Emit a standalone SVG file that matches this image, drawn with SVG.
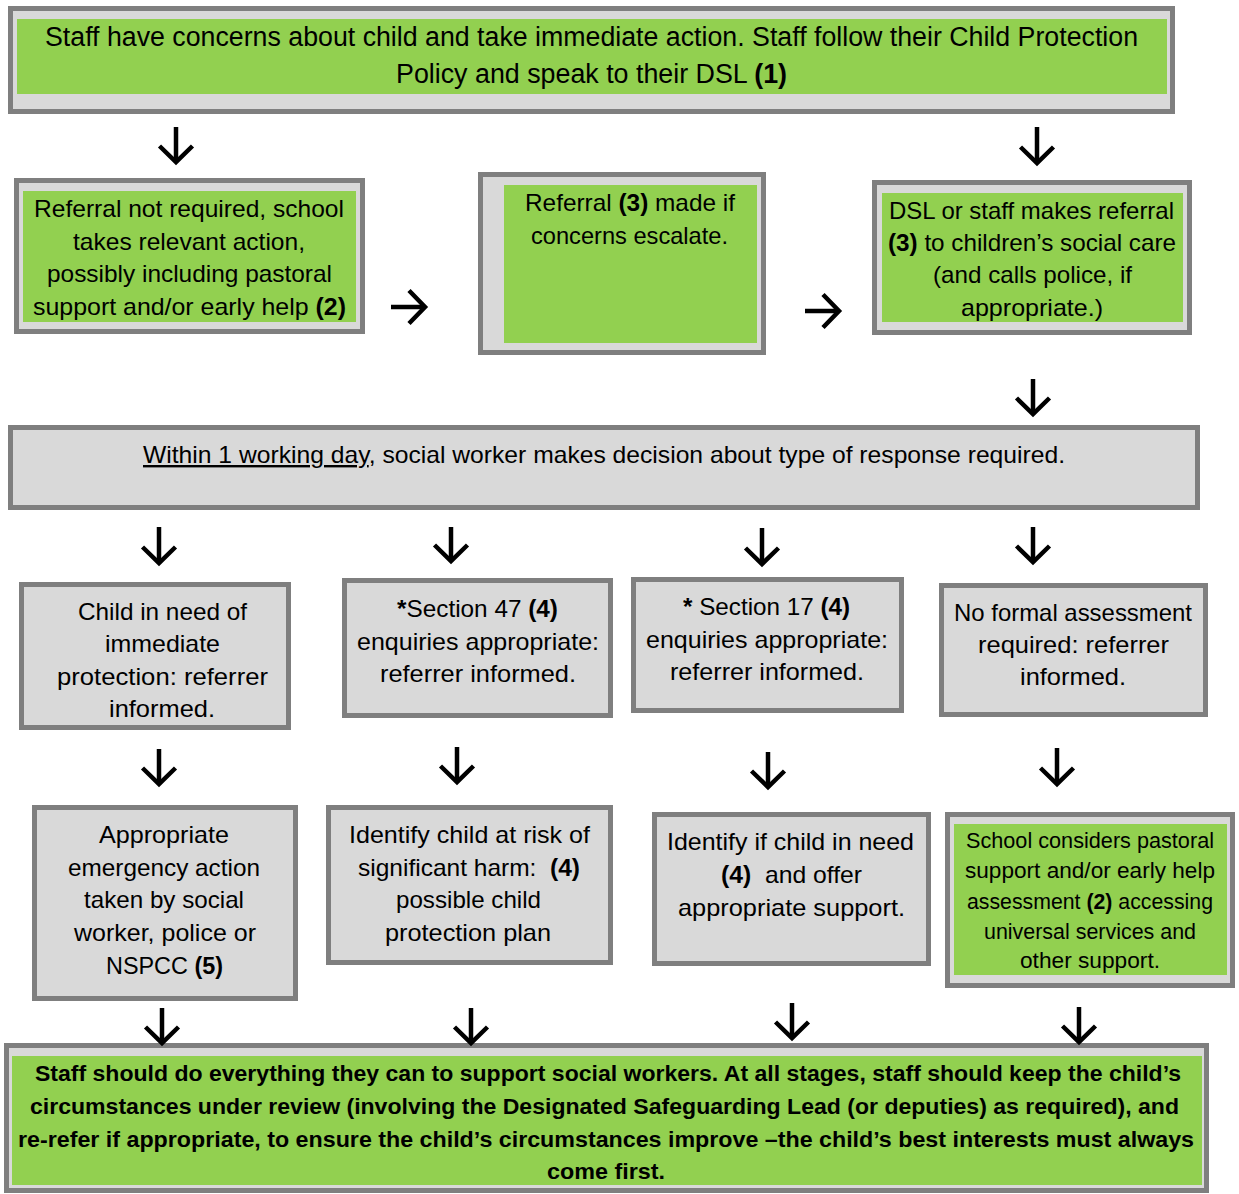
<svg xmlns="http://www.w3.org/2000/svg" width="1239" height="1194" viewBox="0 0 1239 1194">
<defs>
<style>
.box{fill:#d9d9d9;stroke:#7f7f7f;stroke-width:5}
.green{fill:#92d050}
.t{font-family:"Liberation Sans",Arial,sans-serif;fill:#000;text-anchor:middle;font-size:24px}
.b{font-weight:bold}
.arr{stroke:#000;stroke-width:4.5;fill:none;marker-end:url(#chev)}
</style>
<marker id="chev" markerUnits="userSpaceOnUse" orient="auto" refX="0" refY="0" markerWidth="40" markerHeight="40" overflow="visible">
<path d="M-16,-16.5 L0,0 L-16,16.5" fill="none" stroke="#000" stroke-width="4.5" stroke-linejoin="miter"/>
</marker>
</defs>
<rect width="1239" height="1194" fill="#fff"/>

<g id="n1">
<rect class="box" x="10.5" y="8.5" width="1162" height="103"/>
<rect class="green" x="17" y="19" width="1150" height="75"/>
<text class="t" style="font-size:27px" x="591.5" y="46" textLength="1093" lengthAdjust="spacingAndGlyphs">Staff have concerns about child and take immediate action. Staff follow their Child Protection</text>
<text class="t" style="font-size:27px" x="591.5" y="83" textLength="391" lengthAdjust="spacingAndGlyphs">Policy and speak to their DSL <tspan class="b">(1)</tspan></text>
</g>

<g id="n2">
<rect class="box" x="16.5" y="180.5" width="346" height="151"/>
<rect class="green" x="23" y="191" width="333" height="131"/>
<text class="t" x="189" y="217" textLength="310" lengthAdjust="spacingAndGlyphs">Referral not required, school</text>
<text class="t" x="189" y="250" textLength="232" lengthAdjust="spacingAndGlyphs">takes relevant action,</text>
<text class="t" x="189.5" y="282" textLength="285" lengthAdjust="spacingAndGlyphs">possibly including pastoral</text>
<text class="t" x="189.5" y="315" textLength="313" lengthAdjust="spacingAndGlyphs">support and/or early help <tspan class="b">(2)</tspan></text>
</g>

<g id="n3">
<rect class="box" x="480.5" y="174.5" width="283" height="178"/>
<rect class="green" x="504" y="185" width="253" height="158"/>
<text class="t" x="630" y="211" textLength="210" lengthAdjust="spacingAndGlyphs">Referral <tspan class="b">(3)</tspan> made if</text>
<text class="t" x="629.5" y="244" textLength="197" lengthAdjust="spacingAndGlyphs">concerns escalate.</text>
</g>

<g id="n4">
<rect class="box" x="874.5" y="182.5" width="315" height="150"/>
<rect class="green" x="882" y="193" width="301" height="129"/>
<text class="t" x="1031.5" y="219" textLength="285" lengthAdjust="spacingAndGlyphs">DSL or staff makes referral</text>
<text class="t" x="1032" y="251" textLength="288" lengthAdjust="spacingAndGlyphs"><tspan class="b">(3)</tspan> to children’s social care</text>
<text class="t" x="1032.5" y="283" textLength="199" lengthAdjust="spacingAndGlyphs">(and calls police, if</text>
<text class="t" x="1032" y="316" textLength="142" lengthAdjust="spacingAndGlyphs">appropriate.)</text>
</g>

<g id="n5">
<rect class="box" x="10.5" y="427.5" width="1187" height="80"/>
<text class="t" style="text-anchor:start" x="143" y="463" textLength="922" lengthAdjust="spacingAndGlyphs"><tspan text-decoration="underline">Within 1 working day</tspan>, social worker makes decision about type of response required.</text>
</g>

<g id="n6">
<rect class="box" x="21.5" y="584.5" width="267" height="143"/>
<text class="t" x="162.5" y="620" textLength="169" lengthAdjust="spacingAndGlyphs">Child in need of</text>
<text class="t" x="162.5" y="652" textLength="115" lengthAdjust="spacingAndGlyphs">immediate</text>
<text class="t" x="162.5" y="685" textLength="211" lengthAdjust="spacingAndGlyphs">protection: referrer</text>
<text class="t" x="162" y="717" textLength="106" lengthAdjust="spacingAndGlyphs">informed.</text>
</g>

<g id="n7">
<rect class="box" x="344.5" y="580.5" width="266" height="135"/>
<text class="t" x="477.5" y="617" textLength="161" lengthAdjust="spacingAndGlyphs"><tspan class="b">*</tspan>Section 47 <tspan class="b">(4)</tspan></text>
<text class="t" x="478" y="650" textLength="242" lengthAdjust="spacingAndGlyphs">enquiries appropriate:</text>
<text class="t" x="478" y="682" textLength="196" lengthAdjust="spacingAndGlyphs">referrer informed.</text>
</g>

<g id="n8">
<rect class="box" x="633.5" y="579.5" width="268" height="131"/>
<text class="t" x="766.5" y="615" textLength="167" lengthAdjust="spacingAndGlyphs"><tspan class="b">*</tspan> Section 17 <tspan class="b">(4)</tspan></text>
<text class="t" x="767" y="648" textLength="242" lengthAdjust="spacingAndGlyphs">enquiries appropriate:</text>
<text class="t" x="767" y="680" textLength="194" lengthAdjust="spacingAndGlyphs">referrer informed.</text>
</g>

<g id="n9">
<rect class="box" x="941.5" y="585.5" width="264" height="129"/>
<text class="t" x="1073" y="621" textLength="238" lengthAdjust="spacingAndGlyphs">No formal assessment</text>
<text class="t" x="1073.5" y="653" textLength="191" lengthAdjust="spacingAndGlyphs">required: referrer</text>
<text class="t" x="1073" y="685" textLength="106" lengthAdjust="spacingAndGlyphs">informed.</text>
</g>

<g id="n10">
<rect class="box" x="34.5" y="807.5" width="261" height="191"/>
<text class="t" x="164" y="843" textLength="130" lengthAdjust="spacingAndGlyphs">Appropriate</text>
<text class="t" x="164" y="876" textLength="192" lengthAdjust="spacingAndGlyphs">emergency action</text>
<text class="t" x="164" y="908" textLength="160" lengthAdjust="spacingAndGlyphs">taken by social</text>
<text class="t" x="165" y="941" textLength="182" lengthAdjust="spacingAndGlyphs">worker, police or</text>
<text class="t" x="164.5" y="974" textLength="117" lengthAdjust="spacingAndGlyphs">NSPCC <tspan class="b">(5)</tspan></text>
</g>

<g id="n11">
<rect class="box" x="328.5" y="807.5" width="282" height="155"/>
<text class="t" x="469.5" y="843" textLength="241" lengthAdjust="spacingAndGlyphs">Identify child at risk of</text>
<text class="t" x="469" y="876" textLength="222" lengthAdjust="spacingAndGlyphs">significant harm:&#160; <tspan class="b">(4)</tspan></text>
<text class="t" x="468.5" y="908" textLength="145" lengthAdjust="spacingAndGlyphs">possible child</text>
<text class="t" x="468" y="941" textLength="166" lengthAdjust="spacingAndGlyphs">protection plan</text>
</g>

<g id="n12">
<rect class="box" x="654.5" y="814.5" width="274" height="149"/>
<text class="t" x="790.5" y="850" textLength="247" lengthAdjust="spacingAndGlyphs">Identify if child in need</text>
<text class="t" x="791.5" y="883" textLength="141" lengthAdjust="spacingAndGlyphs"><tspan class="b">(4)</tspan>&#160; and offer</text>
<text class="t" x="791.5" y="916" textLength="227" lengthAdjust="spacingAndGlyphs">appropriate support.</text>
</g>

<g id="n13">
<rect class="box" x="947.5" y="814.5" width="285" height="171"/>
<rect class="green" x="954" y="824" width="273" height="151"/>
<text class="t" style="font-size:21.5px" x="1090" y="848" textLength="248" lengthAdjust="spacingAndGlyphs">School considers pastoral</text>
<text class="t" style="font-size:21.5px" x="1090" y="878" textLength="250" lengthAdjust="spacingAndGlyphs">support and/or early help</text>
<text class="t" style="font-size:21.5px" x="1090" y="909" textLength="246" lengthAdjust="spacingAndGlyphs">assessment <tspan class="b">(2)</tspan> accessing</text>
<text class="t" style="font-size:21.5px" x="1090" y="939" textLength="212" lengthAdjust="spacingAndGlyphs">universal services and</text>
<text class="t" style="font-size:21.5px" x="1090" y="968" textLength="140" lengthAdjust="spacingAndGlyphs">other support.</text>
</g>

<g id="n14">
<rect class="box" x="6.5" y="1045.5" width="1200" height="145"/>
<rect class="green" x="12" y="1056" width="1190" height="129"/>
<text class="t b" style="font-size:22.5px" x="608" y="1081" textLength="1146" lengthAdjust="spacingAndGlyphs">Staff should do everything they can to support social workers. At all stages, staff should keep the child’s</text>
<text class="t b" style="font-size:22.5px" x="604.5" y="1114" textLength="1149" lengthAdjust="spacingAndGlyphs">circumstances under review (involving the Designated Safeguarding Lead (or deputies) as required), and</text>
<text class="t b" style="font-size:22.5px" x="606" y="1147" textLength="1176" lengthAdjust="spacingAndGlyphs">re-refer if appropriate, to ensure the child’s circumstances improve –the child’s best interests must always</text>
<text class="t b" style="font-size:22.5px" x="606" y="1179" textLength="118" lengthAdjust="spacingAndGlyphs">come first.</text>
</g>

<g id="connectors">
<line class="arr" x1="176" y1="127" x2="176" y2="162"/>
<line class="arr" x1="1037" y1="127" x2="1037" y2="163"/>
<line class="arr" x1="391" y1="307" x2="425" y2="307"/>
<line class="arr" x1="805" y1="311" x2="839" y2="311"/>
<line class="arr" x1="1033" y1="379" x2="1033" y2="414"/>
<line class="arr" x1="159" y1="527" x2="159" y2="563"/>
<line class="arr" x1="451" y1="527" x2="451" y2="561"/>
<line class="arr" x1="762" y1="528" x2="762" y2="564"/>
<line class="arr" x1="1033" y1="527" x2="1033" y2="562"/>
<line class="arr" x1="159" y1="749" x2="159" y2="784"/>
<line class="arr" x1="457" y1="747" x2="457" y2="782"/>
<line class="arr" x1="768" y1="752" x2="768" y2="787"/>
<line class="arr" x1="1057" y1="748" x2="1057" y2="784"/>
<line class="arr" x1="162" y1="1008" x2="162" y2="1043"/>
<line class="arr" x1="471" y1="1008" x2="471" y2="1043"/>
<line class="arr" x1="792" y1="1003" x2="792" y2="1038"/>
<line class="arr" x1="1079" y1="1007" x2="1079" y2="1042"/>
</g>
</svg>
